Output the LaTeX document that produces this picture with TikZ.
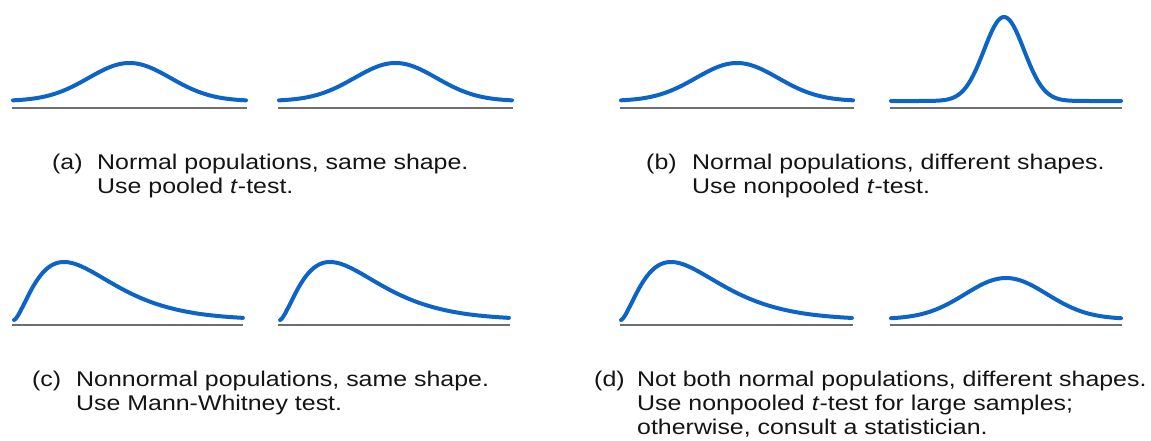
\documentclass[tikz,border=0pt]{standalone}
\usepackage{fontspec}
\setmainfont{Liberation Sans}[FakeStretch=1.17]
\definecolor{curveblue}{RGB}{12,100,200}
\definecolor{axisgray}{RGB}{110,110,110}
\definecolor{textblack}{RGB}{20,20,20}
\begin{document}
\begin{tikzpicture}[x=1pt,y=-1pt,
  curve/.style={draw=curveblue, line width=4pt, line cap=round, line join=round},
  axisline/.style={draw=axisgray, line width=2pt},
  lbl/.style={anchor=base west, inner sep=0pt, text=textblack, font=\fontsize{21.3}{24}\selectfont}]
\useasboundingbox (0,0) rectangle (1151,440);
% (a)
\draw[axisline] (12,108) -- (247,108);
\draw[axisline] (278,108) -- (513,108);
\draw[curve] plot[domain=13:246, samples=120, smooth] (\x,{101-38*exp(-(\x-129.5)*(\x-129.5)/3362)});
\draw[curve] plot[domain=279:512, samples=120, smooth] (\x,{101-38*exp(-(\x-395.5)*(\x-395.5)/3362)});
\node[lbl] (pa) at (52,169) {(a)};
\node[lbl] (a1) at (97,169) {Normal populations, same shape.};
\node[lbl] (a2) at (97,193) {Use pooled \textit{t}-test.};
% (b)
\draw[axisline] (620,108) -- (854,108);
\draw[axisline] (890,108) -- (1122,108);
\draw[curve] plot[domain=621:853, samples=120, smooth] (\x,{101-38*exp(-(\x-737)*(\x-737)/3362)});
\draw[curve] plot[domain=891:1121, samples=160, smooth] (\x,{101-84*exp(-(\x-1004)*(\x-1004)/800)});
\node[lbl] (pb) at (646,169) {(b)};
\node[lbl] (b1) at (692,169) {Normal populations, different shapes.};
\node[lbl] (b2) at (692,193) {Use nonpooled \textit{t}-test.};
% (c)
\draw[axisline] (12,325) -- (243,325);
\draw[axisline] (278,325) -- (510,325);
\draw[curve] plot[domain=0.001:4.58, samples=140, smooth] ({14+50*\x},{320-58*pow(\x,1.6)*exp(1.6*(1-\x))});
\draw[curve] plot[domain=0.001:4.58, samples=140, smooth] ({280+50*\x},{320-58*pow(\x,1.6)*exp(1.6*(1-\x))});
\node[lbl] (pc) at (32,386) {(c)};
\node[lbl] (c1) at (76,386) {Nonnormal populations, same shape.};
\node[lbl] (c2) at (76,410) {Use Mann-Whitney test.};
% (d)
\draw[axisline] (620,325) -- (853,325);
\draw[axisline] (890,325) -- (1122,325);
\draw[curve] plot[domain=0.001:4.62, samples=140, smooth] ({621+50*\x},{320-58*pow(\x,1.6)*exp(1.6*(1-\x))});
\draw[curve] plot[domain=891:1121, samples=120, smooth] (\x,{319-41*exp(-(\x-1006)*(\x-1006)/3362)});
\node[lbl] (pd) at (594,386) {(d)};
\node[lbl] (d1) at (637,386) {Not both normal populations, different shapes.};
\node[lbl] (d2) at (637,410) {Use nonpooled \textit{t}-test for large samples;};
\node[lbl] (d3) at (637,434) {otherwise, consult a statistician.};
\end{tikzpicture}
\end{document}
